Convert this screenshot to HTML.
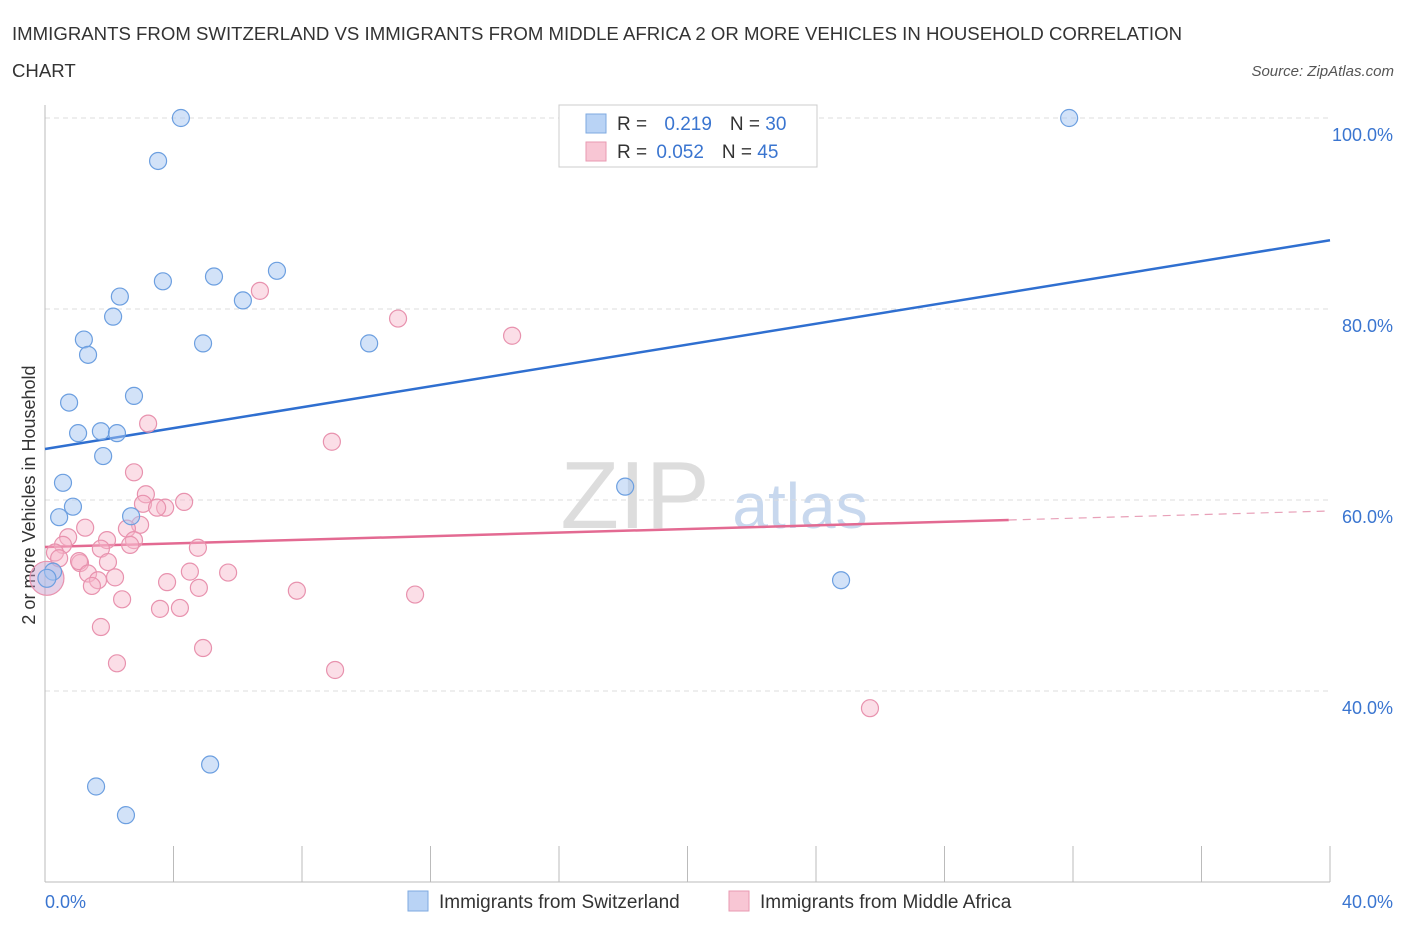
<!DOCTYPE html>
<html><head><meta charset="utf-8"><style>
body{margin:0;background:#fff;font-family:"Liberation Sans",sans-serif;}
svg text{font-family:"Liberation Sans",sans-serif;}
</style></head><body>
<svg id="chart" width="1406" height="930">
<text x="12" y="40" font-size="18.6" fill="#333" textLength="1170">IMMIGRANTS FROM SWITZERLAND VS IMMIGRANTS FROM MIDDLE AFRICA 2 OR MORE VEHICLES IN HOUSEHOLD CORRELATION</text>
<text x="12" y="77" font-size="18.6" fill="#333">CHART</text>
<text x="1394" y="76" font-size="15" fill="#555" font-style="italic" text-anchor="end">Source: ZipAtlas.com</text>
<text x="35" y="495" font-size="18" fill="#333" text-anchor="middle" transform="rotate(-90 35 495)">2 or more Vehicles in Household</text>
<text x="635" y="528" font-size="96" fill="#ddd" text-anchor="middle" font-family="Liberation Serif">ZIP</text>
<text x="800" y="528" font-size="64" fill="#c8d8ee" text-anchor="middle">atlas</text>
<g id="grid"></g><g id="axes"></g><g id="lines"></g><g id="pts"></g>
<g>
<rect x="559" y="105" width="258" height="62" fill="#fff" stroke="#ccc"/>
<rect x="586" y="114" width="20" height="19" fill="#b9d3f5" stroke="#7ea9e0"/>
<text x="617" y="130" font-size="19" fill="#333">R = <tspan fill="#3a75d0" dx="12">0.219</tspan><tspan dx="18" fill="#333">N = </tspan><tspan fill="#3a75d0">30</tspan></text>
<rect x="586" y="142" width="20" height="19" fill="#f8c6d4" stroke="#e89ab2"/>
<text x="617" y="158" font-size="19" fill="#333">R = <tspan fill="#3a75d0" dx="4">0.052</tspan><tspan dx="18" fill="#333">N = </tspan><tspan fill="#3a75d0">45</tspan></text>
</g>
<g>
<rect x="408" y="891" width="20" height="20" fill="#b9d3f5" stroke="#7ea9e0"/>
<text x="439" y="908" font-size="19" fill="#333">Immigrants from Switzerland</text>
<rect x="729" y="891" width="20" height="20" fill="#f8c6d4" stroke="#e89ab2"/>
<text x="760" y="908" font-size="19" fill="#333">Immigrants from Middle Africa</text>
</g>
</svg>
<script>
const blueX=[4.23,31.88,3.52,3.67,5.26,7.22,2.33,6.16,2.12,1.21,1.34,4.92,10.09,2.77,0.75,1.03,1.74,2.24,1.81,0.56,0.87,0.44,2.68,18.06,24.78,0.25,1.59,2.52,5.14,0.06];
const blueY=[100,100,95.5,82.9,83.4,84.0,81.3,80.9,79.2,76.8,75.2,76.4,76.4,70.9,70.2,67.0,67.2,67.0,64.6,61.8,59.3,58.2,58.3,61.4,51.6,52.5,30.0,27.0,32.3,51.8];
const pinkX=[6.69,10.99,14.54,3.21,8.93,2.77,3.14,4.33,3.05,3.74,3.49,2.96,2.55,1.25,0.72,1.93,2.77,4.76,2.65,0.56,1.74,0.31,0.44,1.09,1.96,1.06,1.34,2.18,4.51,5.70,1.65,1.46,3.80,4.79,7.84,11.52,2.40,3.58,4.20,1.74,4.92,2.24,9.03,25.68,0.06];
const pinkY=[81.9,79.0,77.2,68.0,66.1,62.9,60.6,59.8,59.6,59.2,59.2,57.4,57.0,57.1,56.1,55.8,55.8,55.0,55.3,55.3,54.9,54.5,53.9,53.4,53.5,53.6,52.3,51.9,52.5,52.4,51.6,51.0,51.4,50.8,50.5,50.1,49.6,48.6,48.7,46.7,44.5,42.9,42.2,38.2,51.8];
const yTicks=[40,60,80,100];
const yTickLabels=["40.0%","60.0%","80.0%","100.0%"];
const xTickLabels=["0.0%","40.0%"];
const blueTrend=[65.34,87.2];
const pinkTrend=[55.08,58.85];
const NS="http://www.w3.org/2000/svg";
const sx=v=>45+v/40*1285;
const sy=v=>500-(v-60)*9.55;
function mk(p,t,a){const e=document.createElementNS(NS,t);for(const k in a)e.setAttribute(k,a[k]);document.getElementById(p).appendChild(e);return e;}
yTicks.forEach((t,i)=>{
 const g=mk('grid','line',{x1:45,x2:1330,y1:sy(t),y2:sy(t),stroke:'#ddd','stroke-dasharray':'5,4'});
 
 
 const l=mk('axes','text',{x:1393,y:sy(t)+23,'font-size':18,fill:'#3a75d0','text-anchor':'end'});
 l.textContent=yTickLabels[i];
 
 
});
const ax=mk('axes','line',{x1:45,x2:45,y1:105,y2:882,stroke:'#bbb'});


const bx=mk('axes','line',{x1:45,x2:1330,y1:882,y2:882,stroke:'#bbb'});


for(let i=0;i<=10;i++){const t=mk('axes','line',{x1:sx(i*4),x2:sx(i*4),y1:846,y2:882,stroke:'#bbb'});
 
 }
[[0,'start',45],[40,'end',1393]].forEach((d,i)=>{const l=mk('axes','text',{x:d[2],y:908,'font-size':18,fill:'#3a75d0','text-anchor':d[1]});l.textContent=xTickLabels[i];
 
 });
const bl=mk('lines','line',{x1:sx(0),y1:sy(blueTrend[0]),x2:sx(40),y2:sy(blueTrend[1]),stroke:'#2f6fd0','stroke-width':2.5});


const pm=pinkTrend[0]+(pinkTrend[1]-pinkTrend[0])*0.75;
const pl=mk('lines','line',{x1:sx(0),y1:sy(pinkTrend[0]),x2:sx(30),y2:sy(pm),stroke:'#e36a92','stroke-width':2.5});


const pd=mk('lines','line',{x1:sx(30),y1:sy(pm),x2:sx(40),y2:sy(pinkTrend[1]),stroke:'#e8a0b8','stroke-width':1.2,'stroke-dasharray':'8,6'});


pinkX.forEach((x,i)=>{const big=i===pinkX.length-1;
 const c=mk('pts','circle',{cx:sx(x),cy:sy(pinkY[i]),r:big?17:8.5,fill:big?'rgba(200,150,200,0.45)':'rgba(246,182,202,0.45)',stroke:'#e892ae','stroke-width':1.2});
 
 });
blueX.forEach((x,i)=>{const big=i===blueX.length-1;
 const c=mk('pts','circle',{cx:sx(x),cy:sy(blueY[i]),r:big?9:8.5,fill:'rgba(165,198,242,0.5)',stroke:'#6c9fe0','stroke-width':1.2});
 
 });
</script>
</body></html>
